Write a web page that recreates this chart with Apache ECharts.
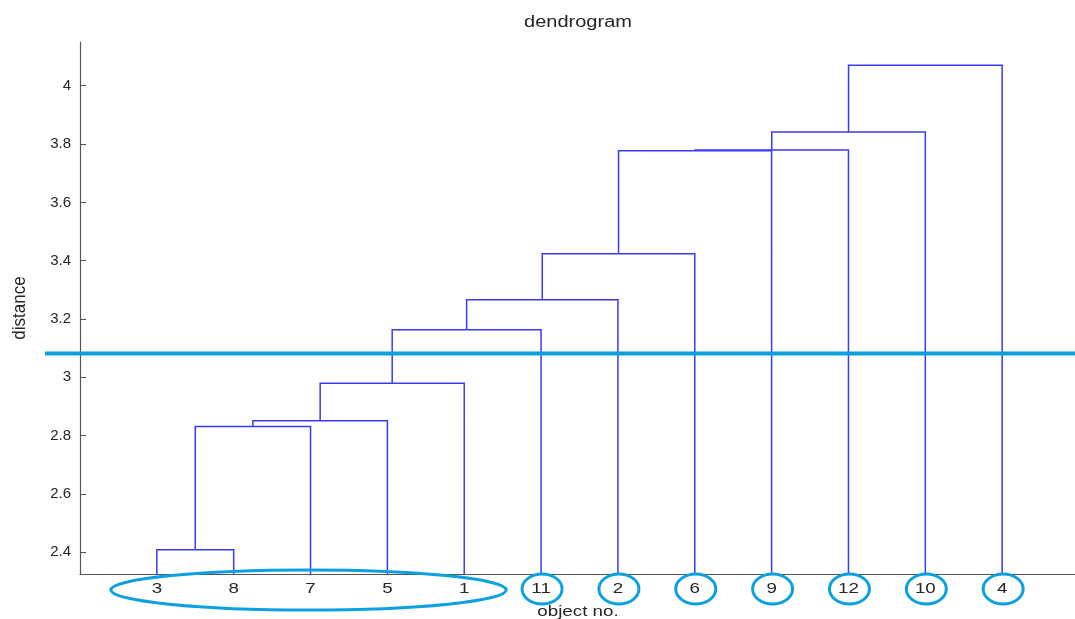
<!DOCTYPE html>
<html>
<head>
<meta charset="utf-8">
<script src="https://cdn.jsdelivr.net/npm/echarts@6/dist/echarts.min.js"></script>
<style>
  html, body { margin: 0; padding: 0; background: #fff; }
  #chart { width: 1075px; height: 619px; }
</style>
</head>
<body>
<div id="chart"></div>
<script>
// Object numbers in the order they appear along the x axis
const leafOrder = [3, 8, 7, 5, 1, 11, 2, 6, 9, 12, 10, 4];

// Linkage rows: ids 1..12 are objects, id 12+k is the cluster formed in row k
const linkLeft   = [3, 13, 14, 15, 16, 17, 18, 19, 20, 21, 22];
const linkRight  = [8, 7, 5, 1, 11, 2, 6, 9, 12, 10, 4];
const linkHeight = [2.409, 2.831, 2.851, 2.980, 3.163, 3.266, 3.424, 3.777, 3.780, 3.841, 4.070];

// Cut level and the groups it produces (ranges of positions on the x axis)
const cutDistance = 3.082;
const groupStart = [1, 6, 7, 8, 9, 10, 11, 12];
const groupEnd   = [5, 6, 7, 8, 9, 10, 11, 12];

// Distance axis
const yTicks = [2.4, 2.6, 2.8, 3.0, 3.2, 3.4, 3.6, 3.8, 4.0];
const yMin = 2.3256;
const yMax = 4.15;

// ---- derived layout of the tree ----
const nLeaves = leafOrder.length;
const leafPos = leafOrder.map((_, i) => i + 1);
const nodeX = {}, nodeY = {};
leafOrder.forEach((id, i) => { nodeX[id] = leafPos[i]; nodeY[id] = yMin; });
const links = linkLeft.map((l, k) => {
  const r = linkRight[k];
  const id = nLeaves + 1 + k;
  nodeX[id] = (nodeX[l] + nodeX[r]) / 2;
  nodeY[id] = linkHeight[k];
  return [nodeX[l], nodeY[l], nodeX[r], nodeY[r], linkHeight[k]];
});
const groups = groupStart.map((s, i) => [s, groupEnd[i]]);
const leafLabels = leafOrder.map((id, i) => [leafPos[i], String(id)]);

const FONT = '"Liberation Sans", Arial, sans-serif';
const TEXT_COLOR = '#252525';
const TREE_COLOR = '#3a3aff';
const MARK_COLOR = '#0aa0e2';
// the figure's lettering is drawn slightly widened
const TEXT_STRETCH = 1.25;

const GRID = { left: 80, right: -4, top: 42, bottom: 45 };

const chart = echarts.init(document.getElementById('chart'), null, { renderer: 'canvas' });

function stretchedText(text, x, y, size, rotation, stretch) {
  const k = stretch || TEXT_STRETCH;
  return {
    type: 'text',
    x, y,
    rotation: rotation || 0,
    // widen along the page's horizontal direction
    scaleX: rotation ? 1 : k,
    scaleY: rotation ? k : 1,
    style: {
      text,
      fontFamily: FONT,
      fontSize: size,
      fill: TEXT_COLOR,
      align: 'center',
      verticalAlign: 'middle'
    }
  };
}

chart.setOption({
  backgroundColor: '#ffffff',
  animation: false,
  grid: Object.assign({ containLabel: false, outerBoundsMode: 'none' }, GRID),
  graphic: [
    stretchedText('dendrogram', 578, 23, 16),
    stretchedText('object no.', 578, 612, 15),
    stretchedText('distance', 20, 308, 17, Math.PI / 2, 1.08)
  ],
  xAxis: {
    type: 'value',
    min: 0,
    max: 13,
    axisLine: { show: true, lineStyle: { color: '#555', width: 1.2 } },
    axisTick: { show: false },
    splitLine: { show: false },
    axisLabel: { show: false }
  },
  yAxis: {
    type: 'value',
    min: yMin,
    max: yMax,
    axisLine: { show: true, lineStyle: { color: '#555', width: 1.2 } },
    axisTick: { show: true, inside: true, length: 6, customValues: yTicks, lineStyle: { color: '#555' } },
    splitLine: { show: false },
    axisLabel: {
      customValues: yTicks,
      formatter: v => String(+(+v).toFixed(1)),
      margin: 9,
      fontFamily: FONT,
      fontSize: 15,
      color: TEXT_COLOR
    }
  },
  series: [
    {
      // U-shaped links of the dendrogram
      type: 'custom',
      name: 'links',
      data: links,
      encode: { x: [0, 2], y: [1, 3, 4] },
      clip: true,
      renderItem(params, api) {
        const xl = api.value(0), yl = api.value(1);
        const xr = api.value(2), yr = api.value(3);
        const h = api.value(4);
        return {
          type: 'polyline',
          shape: { points: [api.coord([xl, yl]), api.coord([xl, h]), api.coord([xr, h]), api.coord([xr, yr])] },
          style: { fill: null, stroke: TREE_COLOR, lineWidth: 1.5 }
        };
      }
    },
    {
      // object numbers under the leaves
      type: 'custom',
      name: 'leaf labels',
      data: leafLabels,
      encode: { x: 0 },
      clip: false,
      renderItem(params, api) {
        const cs = params.coordSys;
        const x = api.coord([api.value(0), yMin])[0];
        return stretchedText(leafLabels[params.dataIndex][1], x, cs.y + cs.height + 15, 15);
      }
    },
    {
      // horizontal cut line
      type: 'custom',
      name: 'cut',
      data: [[cutDistance]],
      encode: { y: 0 },
      clip: false,
      renderItem(params, api) {
        const cs = params.coordSys;
        const y = api.coord([0, api.value(0)])[1];
        return {
          type: 'line',
          shape: { x1: cs.x - 35, y1: y, x2: cs.x + cs.width + 10, y2: y },
          style: { stroke: MARK_COLOR, lineWidth: 4 }
        };
      }
    },
    {
      // ellipses around the groups left under the cut
      type: 'custom',
      name: 'groups',
      data: groups,
      encode: { x: [0, 1] },
      clip: false,
      renderItem(params, api) {
        const cs = params.coordSys;
        const s = api.value(0), e = api.value(1);
        const x1 = api.coord([s, yMin])[0];
        const x2 = api.coord([e, yMin])[0];
        const single = s === e;
        return {
          type: 'ellipse',
          shape: {
            cx: (x1 + x2) / 2 + (single ? 1 : -2),
            cy: cs.y + cs.height + (single ? 15 : 16),
            rx: (x2 - x1) / 2 + (single ? 20 : 44),
            ry: single ? 15 : 20
          },
          style: { fill: null, stroke: MARK_COLOR, lineWidth: 3 }
        };
      }
    }
  ]
});
</script>
</body>
</html>
